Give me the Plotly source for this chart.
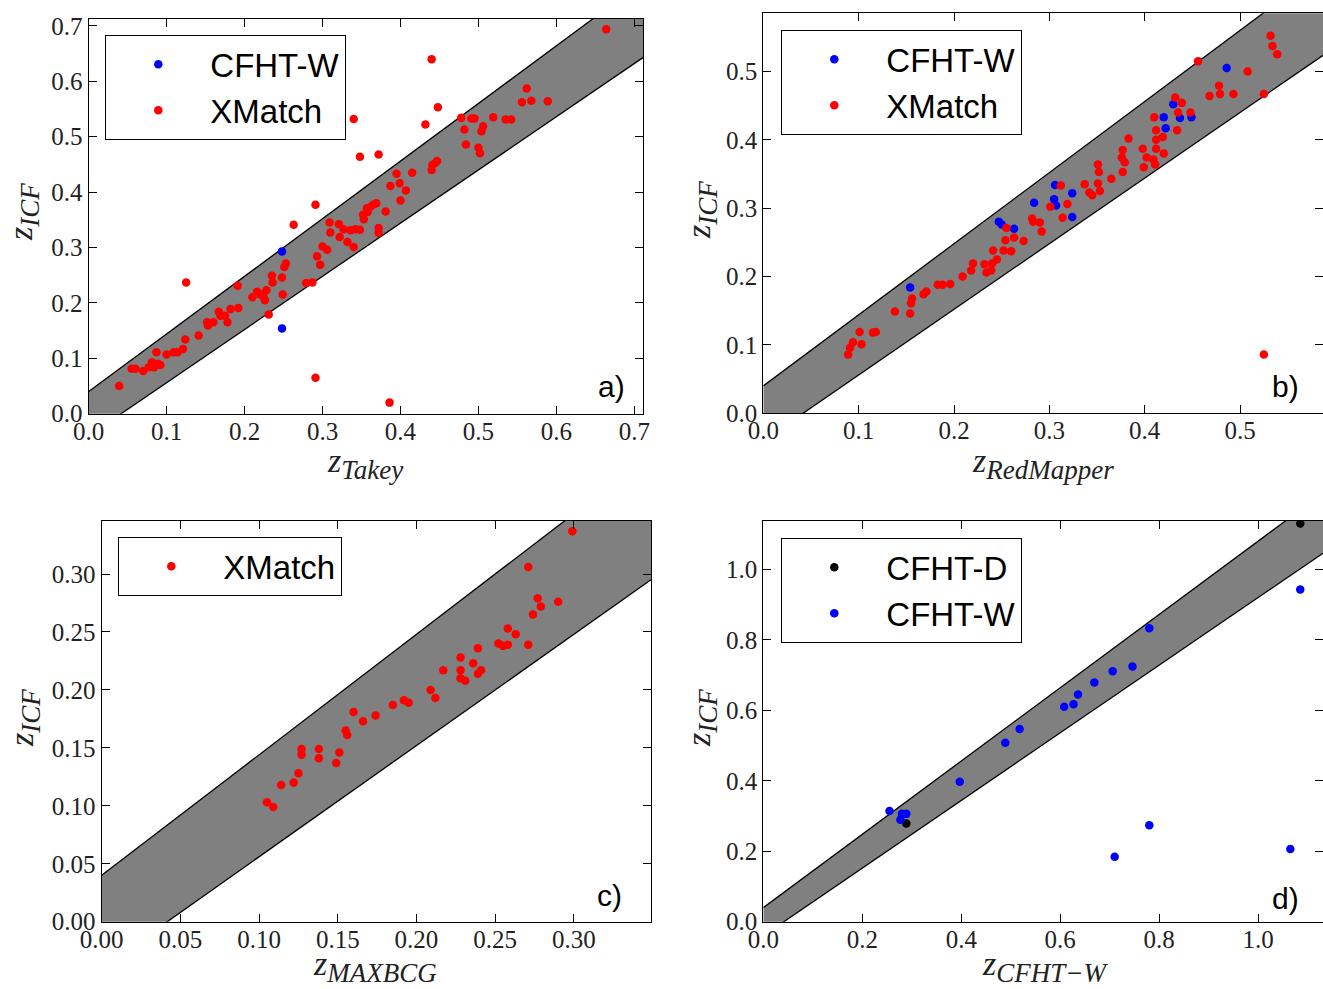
import plotly.graph_objects as go

# ---------------- data ----------------
a_cfhtw = [(0.248, 0.293), (0.248, 0.154)]
a_xmatch = [
    (0.039, 0.050), (0.055, 0.081), (0.060, 0.081), (0.070, 0.077), (0.077, 0.084),
    (0.081, 0.093), (0.084, 0.084), (0.087, 0.111), (0.089, 0.090), (0.092, 0.088),
    (0.100, 0.107), (0.109, 0.111), (0.114, 0.111), (0.121, 0.117), (0.124, 0.134),
    (0.125, 0.237), (0.141, 0.141), (0.152, 0.165), (0.153, 0.159), (0.160, 0.165),
    (0.167, 0.184), (0.169, 0.177), (0.175, 0.177), (0.178, 0.165), (0.182, 0.189),
    (0.191, 0.231), (0.192, 0.191), (0.210, 0.210), (0.216, 0.220), (0.220, 0.215),
    (0.224, 0.212), (0.226, 0.205), (0.228, 0.223), (0.231, 0.179), (0.235, 0.249),
    (0.236, 0.237), (0.248, 0.246), (0.249, 0.215), (0.251, 0.265), (0.253, 0.271),
    (0.263, 0.341), (0.279, 0.236), (0.287, 0.237), (0.291, 0.377), (0.291, 0.065),
    (0.293, 0.284), (0.297, 0.269), (0.300, 0.302), (0.306, 0.296), (0.309, 0.345),
    (0.310, 0.327), (0.321, 0.342), (0.322, 0.319), (0.327, 0.333), (0.332, 0.310),
    (0.336, 0.331), (0.340, 0.301), (0.340, 0.532), (0.342, 0.333), (0.348, 0.464),
    (0.348, 0.332), (0.352, 0.359), (0.353, 0.351), (0.357, 0.371), (0.358, 0.364),
    (0.361, 0.373), (0.365, 0.377), (0.369, 0.380), (0.372, 0.468), (0.372, 0.335),
    (0.372, 0.326), (0.381, 0.365), (0.386, 0.020), (0.387, 0.411), (0.395, 0.433),
    (0.399, 0.416), (0.400, 0.385), (0.407, 0.403), (0.415, 0.435), (0.432, 0.522),
    (0.440, 0.640), (0.440, 0.440), (0.441, 0.449), (0.445, 0.453), (0.447, 0.456),
    (0.448, 0.553), (0.478, 0.534), (0.482, 0.513), (0.484, 0.486), (0.491, 0.533),
    (0.495, 0.533), (0.500, 0.480), (0.502, 0.470), (0.504, 0.510), (0.506, 0.519),
    (0.519, 0.535), (0.535, 0.531), (0.542, 0.531), (0.556, 0.562), (0.562, 0.587),
    (0.568, 0.565), (0.589, 0.564), (0.664, 0.694),
]

b_cfhtw = [
    (0.154, 0.184), (0.247, 0.280), (0.250, 0.276), (0.263, 0.270), (0.284, 0.308),
    (0.306, 0.334), (0.305, 0.313), (0.307, 0.304), (0.324, 0.322), (0.324, 0.287),
    (0.420, 0.433), (0.422, 0.417), (0.430, 0.452), (0.437, 0.432), (0.449, 0.433),
    (0.486, 0.505),
]
b_xmatch = [
    (0.089, 0.086), (0.091, 0.096), (0.094, 0.104), (0.101, 0.119), (0.103, 0.101),
    (0.115, 0.118), (0.118, 0.119), (0.138, 0.149), (0.154, 0.146), (0.155, 0.161),
    (0.156, 0.168), (0.168, 0.174), (0.171, 0.178), (0.183, 0.188), (0.188, 0.188),
    (0.196, 0.189), (0.209, 0.200), (0.218, 0.209), (0.220, 0.219), (0.232, 0.218),
    (0.234, 0.206), (0.239, 0.209), (0.240, 0.219), (0.245, 0.225), (0.241, 0.238),
    (0.252, 0.238), (0.254, 0.253), (0.255, 0.271), (0.260, 0.237), (0.263, 0.257),
    (0.273, 0.252), (0.282, 0.285), (0.283, 0.280), (0.290, 0.279), (0.292, 0.266),
    (0.301, 0.302), (0.312, 0.333), (0.314, 0.286), (0.319, 0.306), (0.337, 0.335),
    (0.342, 0.323), (0.345, 0.319), (0.351, 0.364), (0.351, 0.336), (0.352, 0.353),
    (0.353, 0.325), (0.365, 0.343), (0.376, 0.374), (0.377, 0.385), (0.377, 0.353),
    (0.379, 0.367), (0.383, 0.402), (0.398, 0.387), (0.399, 0.360), (0.402, 0.374),
    (0.409, 0.371), (0.411, 0.364), (0.410, 0.433), (0.412, 0.414), (0.412, 0.400),
    (0.412, 0.387), (0.419, 0.404), (0.420, 0.380), (0.432, 0.462), (0.434, 0.414),
    (0.435, 0.440), (0.439, 0.454), (0.448, 0.440), (0.456, 0.515), (0.468, 0.464),
    (0.478, 0.479), (0.479, 0.467), (0.493, 0.467), (0.508, 0.500), (0.525, 0.467),
    (0.525, 0.086), (0.532, 0.552), (0.534, 0.537), (0.539, 0.525),
]

c_xmatch = [
    (0.105, 0.103), (0.109, 0.099), (0.114, 0.118), (0.122, 0.120), (0.125, 0.128),
    (0.127, 0.149), (0.127, 0.144), (0.138, 0.149), (0.138, 0.141), (0.149, 0.137),
    (0.151, 0.146), (0.155, 0.165), (0.156, 0.161), (0.160, 0.181), (0.166, 0.173),
    (0.174, 0.178), (0.185, 0.187), (0.192, 0.191), (0.195, 0.189), (0.209, 0.200),
    (0.212, 0.193), (0.217, 0.217), (0.228, 0.228), (0.228, 0.217), (0.228, 0.210),
    (0.231, 0.208), (0.236, 0.223), (0.239, 0.236), (0.239, 0.214), (0.241, 0.217),
    (0.252, 0.240), (0.255, 0.238), (0.258, 0.253), (0.258, 0.239), (0.263, 0.248),
    (0.271, 0.306), (0.271, 0.239), (0.274, 0.265), (0.277, 0.279), (0.279, 0.272),
    (0.290, 0.276), (0.299, 0.337),
]

d_cfhtd = [(0.289, 0.279), (1.085, 1.130)]
d_cfhtw = [
    (0.255, 0.314), (0.277, 0.289), (0.280, 0.306), (0.289, 0.306), (0.397, 0.397),
    (0.489, 0.508), (0.518, 0.547), (0.608, 0.610), (0.627, 0.617), (0.636, 0.645),
    (0.669, 0.679), (0.706, 0.711), (0.746, 0.724), (0.780, 0.833), (0.780, 0.274),
    (0.710, 0.184), (1.065, 0.206), (1.085, 0.943),
]

band_frac = 0.04  # band: z +/- 0.04 (1 + z)

x_ranges = [0.7116, 0.587, 0.349, 1.131]
y_ranges = [0.713, 0.585, 0.346, 1.138]
x_ticks = [[0, 0.1, 0.2, 0.3, 0.4, 0.5, 0.6, 0.7],
           [0, 0.1, 0.2, 0.3, 0.4, 0.5],
           [0, 0.05, 0.10, 0.15, 0.20, 0.25, 0.30],
           [0, 0.2, 0.4, 0.6, 0.8, 1.0]]
y_ticks = [[0, 0.1, 0.2, 0.3, 0.4, 0.5, 0.6, 0.7],
           [0, 0.1, 0.2, 0.3, 0.4, 0.5],
           [0, 0.05, 0.10, 0.15, 0.20, 0.25, 0.30],
           [0, 0.2, 0.4, 0.6, 0.8, 1.0]]
tick_fmt = [".1f", ".1f", ".2f", ".1f"]
x_labels = ["Takey", "RedMapper", "MAXBCG", "CFHT\u2212W"]
y_label = "ICF"
panel_letters = ["a)", "b)", "c)", "d)"]

series = [
    [("CFHT-W", a_cfhtw, "#0000ff"), ("XMatch", a_xmatch, "#ff0000")],
    [("CFHT-W", b_cfhtw, "#0000ff"), ("XMatch", b_xmatch, "#ff0000")],
    [("XMatch", c_xmatch, "#ff0000")],
    [("CFHT-D", d_cfhtd, "#000000"), ("CFHT-W", d_cfhtw, "#0000ff")],
]

# ---------------- layout geometry (pixels of a 1323x989 page) ----------------
W, H = 1323, 989
px_x = [(88.7, 643.3), (763.3, 1323), (101.7, 651.0), (763.3, 1323)]
px_y = [(18.7, 413.7), (13.3, 413.3), (520.7, 921.7), (520.7, 921.7)]
legend_pos = [(105, 35), (781, 30), (118, 537), (781, 538)]
xlabel_pos = [(365, 463), (1043, 463), (375, 966), (1045, 966)]
ylabel_pos = [(24, 212), (701, 210), (24, 718), (701, 718)]
letter_pos = [(611, 386), (1285, 387), (609, 895), (1285, 898)]

fig = go.Figure()
TICKFONT = dict(family="Liberation Serif", size=25, color="#222222")
LABELFONT = dict(family="Liberation Serif", size=34, color="#222222")


def math_label(sub):
    return (f"<i>z</i><sub><span style='font-size:27px'><i>{sub}</i></span></sub>")


annotations = []
for i in range(4):
    k = "" if i == 0 else str(i + 1)
    xa, ya = "x" + k, "y" + k
    xmax = x_ranges[i]
    bx = [0, xmax]
    up = [v + band_frac * (1 + v) for v in bx]
    lo = [v - band_frac * (1 + v) for v in bx]
    # band fill
    fig.add_trace(go.Scatter(
        x=bx + bx[::-1], y=up + lo[::-1], fill="toself", fillcolor="#808080",
        mode="none", showlegend=False, hoverinfo="skip", xaxis=xa, yaxis=ya))
    for edge in (up, lo):
        fig.add_trace(go.Scatter(
            x=bx, y=edge, mode="lines", line=dict(color="black", width=1.3),
            showlegend=False, hoverinfo="skip", xaxis=xa, yaxis=ya))
    leg = "legend" if i == 0 else "legend" + str(i + 1)
    for gi, (name, pts, col) in enumerate(series[i]):
        fig.add_trace(go.Scatter(
            x=[p[0] for p in pts], y=[p[1] for p in pts], mode="markers",
            name=name, marker=dict(color=col, size=8.5, line=dict(width=0)),
            xaxis=xa, yaxis=ya, legend=leg, legendgroup=f"g{i}_{gi}"))

    x0, x1 = px_x[i]
    y0, y1 = px_y[i]
    axis_common = dict(showline=True, mirror="ticks", linecolor="black", linewidth=1.3,
                       ticks="inside", ticklen=8, tickwidth=1, tickcolor="black",
                       showgrid=False, zeroline=False, tickfont=TICKFONT,
                       automargin=False)
    fig.layout["xaxis" + k] = dict(
        domain=[x0 / W, min(x1 / W, 1.0)], range=[0, xmax], anchor=ya,
        tickvals=x_ticks[i], tickformat=tick_fmt[i], ticklabelstandoff=-5,
        **axis_common)
    fig.layout["yaxis" + k] = dict(
        domain=[1 - y1 / H, 1 - y0 / H], range=[0, y_ranges[i]], anchor=xa,
        tickvals=y_ticks[i], tickformat=tick_fmt[i], **axis_common)

    lx, ly = legend_pos[i]
    fig.layout[leg] = dict(
        x=lx / W, y=1 - ly / H, xanchor="left", yanchor="top",
        bordercolor="black", borderwidth=1.3, bgcolor="white",
        font=dict(family="Liberation Sans", size=33, color="black"),
        itemwidth=94, tracegroupgap=12, traceorder="normal")

    xl = xlabel_pos[i]
    annotations.append(dict(
        text=math_label(x_labels[i]), x=xl[0] / W, y=1 - xl[1] / H,
        xref="paper", yref="paper", showarrow=False, font=LABELFONT,
        xanchor="center", yanchor="middle"))
    yl = ylabel_pos[i]
    annotations.append(dict(
        text=math_label(y_label), x=yl[0] / W, y=1 - yl[1] / H,
        xref="paper", yref="paper", showarrow=False, font=LABELFONT, textangle=-90,
        xanchor="center", yanchor="middle"))
    lp = letter_pos[i]
    annotations.append(dict(
        text=panel_letters[i], x=lp[0] / W, y=1 - lp[1] / H, xref="paper", yref="paper",
        showarrow=False, font=dict(family="Liberation Sans", size=30, color="black"),
        xanchor="center", yanchor="middle"))

fig.update_layout(
    width=W, height=H, margin=dict(l=0, r=0, t=0, b=0, pad=0, autoexpand=False),
    paper_bgcolor="white", plot_bgcolor="white", annotations=annotations,
)

fig.write_html("out.html")
